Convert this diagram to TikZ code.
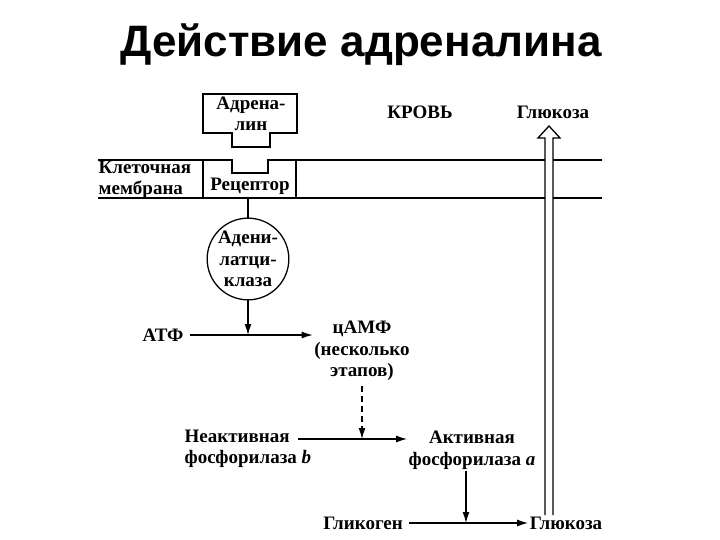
\documentclass[tikz,border=0pt]{standalone}
\usepackage{fontspec}
\usetikzlibrary{arrows.meta}
\setmainfont{Liberation Serif}
\newfontfamily\titlefont{Liberation Sans}
\tikzset{
    lbl/.style={font=\fontsize{19}{21.5}\selectfont\bfseries, align=center, inner sep=1pt},
    lblleft/.style={lbl, align=left},
    >={Latex[length=11pt, width=7pt]},
}
\begin{document}
\begin{tikzpicture}[x=1pt, y=-1pt, line width=1.3pt]
        \useasboundingbox (0, 0) rectangle (720, 540);
        \node[font=\fontsize{44}{48}\selectfont\bfseries\titlefont] (title) at (361, 45) {Действие адреналина};
        \draw (203, 94) -- (297, 94) -- (297, 133) -- (270, 133) -- (270, 147) -- (232, 147) -- (232, 133) -- (203, 133) -- cycle;
        \node[lbl] (adr) at (251, 114) {Адрена-\\лин};
        \draw (98, 160) -- (232, 160) -- (232, 173) -- (268, 173) -- (268, 160) -- (545, 160);
        \draw (553, 160) -- (602, 160);
        \draw (98, 198) -- (545, 198);
        \draw (553, 198) -- (602, 198);
        \draw (203, 160) -- (203, 198);
        \draw (296, 160) -- (296, 198);
        \node[lblleft, anchor=west] (mem) at (97, 180) {Клеточная\\мембрана};
        \node[lbl] (rec) at (250, 186) {Рецептор};
        \coordinate (recbot) at (248, 198);
        \node[lbl] (blood) at (420, 112) {КРОВЬ};
        \node[lbl] (glutop) at (553, 112) {Глюкоза};
        \node[lbl, draw, circle, minimum size=78pt, inner sep=0pt] (cyc) at (248, 259) {Адени-\\латци-\\клаза};
        \draw (recbot) -- (cyc.north);
        \node[lbl, inner xsep=6pt] (atf) at (163, 335) {АТФ};
        \node[lbl] (camp) at (362, 351) {цАМФ\\(несколько\\этапов)};
        \draw[->] (atf.east) -- (atf.east -| camp.west);
        \draw[->] (cyc.south) -- (cyc.south |- atf.east);
        \node[lblleft, inner xsep=6pt, anchor=west] (inact) at (178, 449) {Неактивная\\фосфорилаза \textit{b}};
        \node[lbl] (act) at (472, 450) {Активная\\фосфорилаза \textit{a}};
        \coordinate (phos) at ([yshift=10pt, xshift=-20pt]inact.east);
        \coordinate (campbot) at ([yshift=-4pt]camp.south);
        \coordinate (actbot) at ([xshift=-6pt]act.south);
        \draw[->] (phos) -- (phos -| act.west);
        \draw[dash pattern=on 6pt off 4pt, ->] (campbot) -- (campbot |- phos);
        \node[lbl, inner xsep=6pt] (glyc) at (363, 523) {Гликоген};
        \node[lbl] (glu) at (566, 523) {Глюкоза};
        \draw[->] (glyc.east) -- (glyc.east -| glu.west);
        \draw[->] (actbot) -- (actbot |- glyc.east);
        \coordinate (shl) at (545, 138);
        \coordinate (shr) at (553, 138);
        \draw (glu.north -| shl) -- (shl) -- (538, 138) -- (549, 126) -- (560, 138) -- (shr) -- (glu.north -| shr);
    \end{tikzpicture}
\end{document}
